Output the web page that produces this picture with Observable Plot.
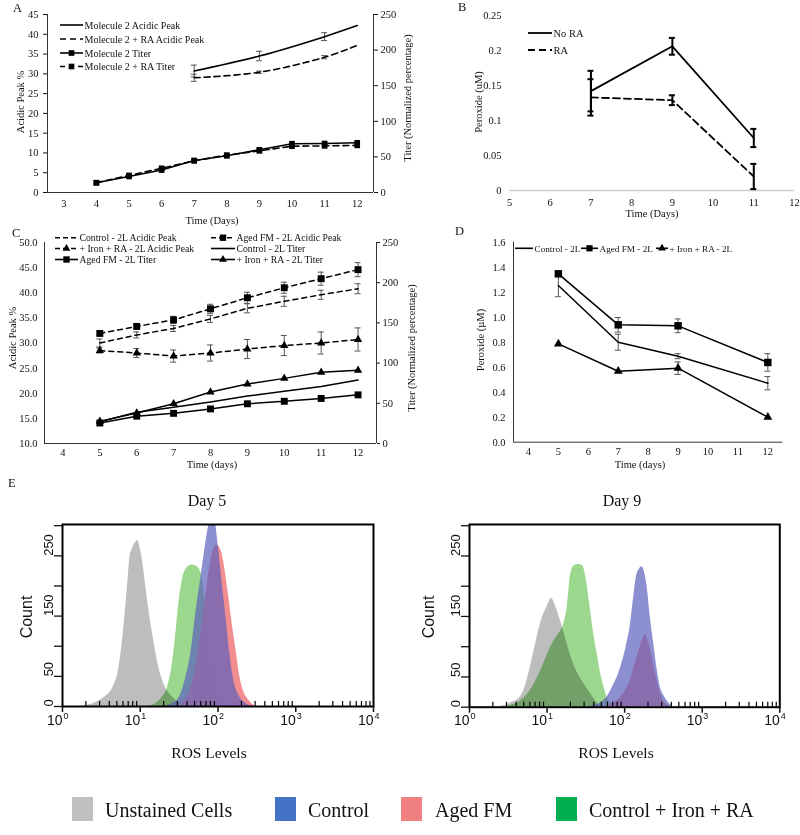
<!DOCTYPE html>
<html><head><meta charset="utf-8">
<script src="https://cdn.jsdelivr.net/npm/d3@7"></script>
<script src="https://cdn.jsdelivr.net/npm/@observablehq/plot@0.6"></script>
<style>
body{margin:0;background:#fff;}
#root{position:relative;width:800px;height:835px;overflow:hidden;background:#fff;}
</style></head>
<body><div id="root"></div>
<script>
// ================= DATA =================
// Panel A
const daysA = [4,5,6,7,8,9,10,11,12];
const titerA = [13.6,22.5,31.5,45,51.5,60,68.5,68.8,69.8];
const titerRA_A = [13.8,24,34,44.5,52.5,58.5,65,65.5,66.2];
const acidDaysA = [7,9,11,12];
const acidA = [30.7,34.5,39.4,42.2];
const acidErrA = [1.5,1.2,1.0,0];
const acidRA_A = [29.0,30.4,34.2,37.2];
const acidRAErrA = [0.9,0.3,0.4,0];
const xTicksA = [3,4,5,6,7,8,9,10,11,12];
const yTicksA = [0,5,10,15,20,25,30,35,40,45];
const yTicksTiter = [0,50,100,150,200,250];
const legendA = ["Molecule 2 Acidic Peak","Molecule 2 + RA Acidic Peak","Molecule 2 Titer","Molecule 2 + RA Titer"];

// Panel B
const daysB = [7,9,11];
const noRA = [0.142,0.206,0.075];
const noRAErr = [0.029,0.012,0.013];
const withRA = [0.133,0.129,0.020];
const withRAErr = [0.026,0.007,0.018];
const xTicksB = [5,6,7,8,9,10,11,12];
const yTicksB = [0,0.05,0.1,0.15,0.2,0.25];
const legendB = ["No RA","RA"];

// Panel C
const daysC = [5,6,7,8,9,10,11,12];
const ctrlAcidC = [30.0,31.6,32.9,34.8,36.9,38.3,39.6,40.8];
const ctrlAcidErrC = [0.8,0.6,0.6,0.7,0.9,1.0,0.9,1.0];
const agedAcidC = [31.9,33.3,34.6,36.8,39.0,41.0,42.8,44.6];
const agedAcidErrC = [0.3,0.5,0.7,0.9,1.1,1.1,1.3,1.4];
const ironAcidC = [28.5,28.0,27.4,28.0,28.8,29.5,30.0,30.7];
const ironAcidErrC = [0.5,0.9,1.2,1.6,1.9,2.0,2.2,2.3];
const ctrlTiterC = [27,39,45,51.5,59,65,71,79];
const agedTiterC = [25.5,34,37.5,43,49.4,52.5,56,60.5];
const ironTiterC = [27.5,38,49.5,64,74,81,88.5,91];
const xTicksCD = [4,5,6,7,8,9,10,11,12];
const yTicksC = [10,15,20,25,30,35,40,45,50];
const legendC = ["Control - 2L Acidic Peak","Aged FM - 2L Acidic Peak","+ Iron + RA - 2L Acidic Peak","Control - 2L Titer","Aged FM - 2L Titer","+ Iron + RA - 2L Titer"];

// Panel D
const daysD = [5,7,9,12];
const ctrlD = [1.254,0.80,0.688,0.472];
const ctrlErrD = [0.09,0.064,0.02,0.053];
const agedD = [1.347,0.939,0.931,0.638];
const agedErrD = [0.02,0.058,0.055,0.07];
const ironD = [0.787,0.568,0.592,0.20];
const ironErrD = [0,0,0.05,0];
const yTicksD = [0,0.2,0.4,0.6,0.8,1.0,1.2,1.4,1.6];
const legendD = ["Control - 2L","Aged FM - 2L","+ Iron + RA - 2L"];

// Panel E: histograms, [log10(ROS), count]
const gray5 = [[0.25,0],[0.35,3],[0.45,8],[0.55,16],[0.65,32],[0.72,60],[0.78,120],[0.83,190],[0.87,250],[0.90,262],[0.94,272],[0.97,275],[1.00,262],[1.04,232],[1.08,190],[1.13,143],[1.18,105],[1.22,76],[1.27,50],[1.32,32],[1.40,18],[1.50,6],[1.58,0]];
const green5 = [[1.10,0],[1.20,5],[1.28,15],[1.35,32],[1.40,60],[1.45,110],[1.50,175],[1.55,215],[1.60,230],[1.66,235],[1.72,233],[1.78,222],[1.84,170],[1.90,100],[1.96,45],[2.02,15],[2.10,3],[2.18,0]];
const blue5 = [[1.30,0],[1.40,4],[1.50,15],[1.58,45],[1.65,88],[1.72,160],[1.78,214],[1.83,260],[1.88,300],[1.92,320],[1.96,310],[2.00,270],[2.05,210],[2.10,150],[2.15,90],[2.20,45],[2.27,18],[2.35,6],[2.45,0]];
const red5 = [[1.45,0],[1.55,8],[1.65,30],[1.72,70],[1.80,140],[1.87,210],[1.93,255],[1.98,268],[2.03,262],[2.08,235],[2.13,190],[2.18,140],[2.23,95],[2.28,50],[2.33,25],[2.40,10],[2.48,0]];
const gray9 = [[0.30,0],[0.45,3],[0.55,8],[0.65,16],[0.72,35],[0.80,75],[0.87,115],[0.93,145],[1.00,166],[1.06,180],[1.10,170],[1.17,144],[1.23,118],[1.28,95],[1.34,72],[1.40,55],[1.47,40],[1.53,28],[1.60,15],[1.68,3],[1.75,0]];
const green9 = [[0.45,0],[0.55,4],[0.65,10],[0.75,22],[0.85,42],[0.95,70],[1.03,95],[1.10,112],[1.17,125],[1.22,140],[1.26,166],[1.30,216],[1.35,234],[1.40,236],[1.46,234],[1.50,215],[1.55,170],[1.60,122],[1.65,85],[1.69,56],[1.74,30],[1.78,15],[1.84,4],[1.90,0]];
const blue9 = [[1.50,0],[1.60,3],[1.70,8],[1.78,18],[1.85,35],[1.92,55],[1.97,75],[2.02,100],[2.07,133],[2.11,175],[2.15,215],[2.19,228],[2.22,232],[2.25,226],[2.29,199],[2.33,150],[2.38,100],[2.42,62],[2.46,33],[2.51,18],[2.56,8],[2.63,0]];
const red9 = [[1.70,0],[1.78,3],[1.86,8],[1.94,15],[2.00,25],[2.07,44],[2.13,70],[2.20,100],[2.24,115],[2.27,120],[2.31,105],[2.35,85],[2.38,66],[2.43,38],[2.50,11],[2.56,3],[2.62,0]];
const decadesE = [1,10,100,1000,10000];
const yTicksE = [0,50,100,150,200,250,300];
const yLabelsE = [0,50,150,250];
const legendE = ["Unstained Cells","Control","Aged FM","Control + Iron + RA"];
// drawing order: gray, green, red, blue
const histFills = {gray: "#bdbdbd", green: "#9bd88e", red: "#f2888a", blue: "#5b5fbc"};
const legendColorsE = ["#c0c0c0","#4472c4","#f08080","#00b050"];

// ================= HELPERS =================
const root = document.getElementById("root");
function place(svg, left, top) {
  svg.style.position = "absolute";
  svg.style.left = left + "px";
  svg.style.top = top + "px";
  root.appendChild(svg);
  return svg;
}
const rows = (xs, vs, es) => xs.map((x, i) => ({x, v: vs[i], e: es ? es[i] : 0}));
function errorMarks(data, {stroke = "#555", strokeWidth = 1, cap = 3} = {}) {
  const d = data.filter(r => r.e > 0);
  return [
    Plot.ruleX(d, {x: "x", y1: r => r.v - r.e, y2: r => r.v + r.e, stroke, strokeWidth}),
    Plot.ruleY(d, {x1: "x", x2: "x", y: r => r.v + r.e, insetLeft: -cap, insetRight: -cap, stroke, strokeWidth}),
    Plot.ruleY(d, {x1: "x", x2: "x", y: r => r.v - r.e, insetLeft: -cap, insetRight: -cap, stroke, strokeWidth})
  ];
}
const serifStyle = {background: "none", fontFamily: "Liberation Serif, serif", fontSize: "10.5px", overflow: "visible", color: "#111"};
const plain = d => String(d);

// ================= PANEL A =================
const xDomA = [2.5, 12.5];
const dimsA = {width: 400, height: 230, marginLeft: 47, marginRight: 27, marginTop: 14, marginBottom: 38};
const acidRowsA = rows(acidDaysA, acidA, acidErrA);
const acidRARowsA = rows(acidDaysA, acidRA_A, acidRAErrA);
const titerRowsA = rows(daysA, titerA);
const titerRARowsA = rows(daysA, titerRA_A);
place(Plot.plot({
  ...dimsA, style: serifStyle,
  x: {domain: xDomA}, y: {domain: [0, 45]},
  marks: [
    Plot.ruleY([0], {stroke: "#333"}),
    Plot.ruleX(xDomA, {stroke: "#333"}),
    Plot.axisY({ticks: yTicksA, tickSize: 4, tickPadding: 5, tickFormat: plain, label: null}),
    Plot.axisX({ticks: xTicksA, tickSize: 0, tickPadding: 7, tickFormat: plain, label: null}),
    ...errorMarks(acidRowsA), ...errorMarks(acidRARowsA),
    Plot.line(acidRowsA, {x: "x", y: "v", stroke: "black", strokeWidth: 1.6, curve: "catmull-rom"}),
    Plot.line(acidRARowsA, {x: "x", y: "v", stroke: "black", strokeWidth: 1.6, strokeDasharray: "6,4", curve: "catmull-rom"})
  ]
}), 0, 0);
place(Plot.plot({
  ...dimsA, style: serifStyle,
  x: {domain: xDomA, axis: null}, y: {domain: [0, 250]},
  marks: [
    Plot.axisY({anchor: "right", ticks: yTicksTiter, tickSize: 4, tickPadding: 3, tickFormat: plain, label: null}),
    Plot.line(titerRowsA, {x: "x", y: "v", stroke: "black", strokeWidth: 1.6}),
    Plot.line(titerRARowsA, {x: "x", y: "v", stroke: "black", strokeWidth: 1.6, strokeDasharray: "6,4"}),
    Plot.dot(titerRowsA, {x: "x", y: "v", symbol: "square", r: 3.2, fill: "black"}),
    Plot.dot(titerRARowsA, {x: "x", y: "v", symbol: "square", r: 3.2, fill: "black"})
  ]
}), 0, 0);

// ================= PANEL B =================
const noRARows = rows(daysB, noRA, noRAErr);
const withRARows = rows(daysB, withRA, withRAErr);
place(Plot.plot({
  width: 400, height: 230, marginLeft: 109, marginRight: 6, marginTop: 15, marginBottom: 40,
  style: serifStyle,
  x: {domain: [5, 12]}, y: {domain: [0, 0.25]},
  marks: [
    Plot.ruleY([0], {stroke: "#cfcfcf", strokeWidth: 1.3}),
    Plot.axisY({ticks: yTicksB, tickSize: 0, tickPadding: 8, tickFormat: plain, label: null}),
    Plot.axisX({ticks: xTicksB, tickSize: 0, tickPadding: 8, tickFormat: plain, label: null}),
    Plot.line(noRARows, {x: "x", y: "v", stroke: "black", strokeWidth: 1.8}),
    Plot.line(withRARows, {x: "x", y: "v", stroke: "black", strokeWidth: 1.8, strokeDasharray: "7,4"}),
    ...errorMarks(noRARows, {stroke: "black", strokeWidth: 2, cap: 3}),
    ...errorMarks(withRARows, {stroke: "black", strokeWidth: 2, cap: 3})
  ]
}), 400, 0);

// ================= PANEL C =================
const xDomCD = [3.5, 12.5];
const dimsC = {width: 400, height: 250, marginLeft: 44, marginRight: 24, marginTop: 17, marginBottom: 32};
const ctrlAcidRows = rows(daysC, ctrlAcidC, ctrlAcidErrC);
const agedAcidRows = rows(daysC, agedAcidC, agedAcidErrC);
const ironAcidRows = rows(daysC, ironAcidC, ironAcidErrC);
place(Plot.plot({
  ...dimsC, style: serifStyle,
  x: {domain: xDomCD}, y: {domain: [10, 50]},
  marks: [
    Plot.ruleY([10], {stroke: "#333"}),
    Plot.ruleX(xDomCD, {stroke: "#333"}),
    Plot.axisY({ticks: yTicksC, tickSize: 0, tickPadding: 7, tickFormat: d3.format(".1f"), label: null}),
    Plot.axisX({ticks: xTicksCD, tickSize: 0, tickPadding: 5.5, tickFormat: plain, label: null}),
    ...errorMarks(ctrlAcidRows), ...errorMarks(agedAcidRows), ...errorMarks(ironAcidRows),
    Plot.line(ctrlAcidRows, {x: "x", y: "v", stroke: "black", strokeWidth: 1.5, strokeDasharray: "5,4"}),
    Plot.line(agedAcidRows, {x: "x", y: "v", stroke: "black", strokeWidth: 1.5, strokeDasharray: "5,4"}),
    Plot.line(ironAcidRows, {x: "x", y: "v", stroke: "black", strokeWidth: 1.5, strokeDasharray: "5,4"}),
    Plot.dot(agedAcidRows, {x: "x", y: "v", symbol: "square", r: 3.9, fill: "black"}),
    Plot.dot(ironAcidRows, {x: "x", y: "v", symbol: "triangle", r: 3.1, fill: "black"})
  ]
}), 0, 225);
const ctrlTiterRows = rows(daysC, ctrlTiterC);
const agedTiterRows = rows(daysC, agedTiterC);
const ironTiterRows = rows(daysC, ironTiterC);
place(Plot.plot({
  ...dimsC, style: serifStyle,
  x: {domain: xDomCD, axis: null}, y: {domain: [0, 250]},
  marks: [
    Plot.axisY({anchor: "right", ticks: yTicksTiter, tickSize: 3, tickPadding: 3, tickFormat: plain, label: null}),
    Plot.line(ctrlTiterRows, {x: "x", y: "v", stroke: "black", strokeWidth: 1.5}),
    Plot.line(agedTiterRows, {x: "x", y: "v", stroke: "black", strokeWidth: 1.5}),
    Plot.line(ironTiterRows, {x: "x", y: "v", stroke: "black", strokeWidth: 1.5}),
    Plot.dot(agedTiterRows, {x: "x", y: "v", symbol: "square", r: 3.9, fill: "black"}),
    Plot.dot(ironTiterRows, {x: "x", y: "v", symbol: "triangle", r: 3.1, fill: "black"})
  ]
}), 0, 225);

// ================= PANEL D =================
const ctrlDRows = rows(daysD, ctrlD, ctrlErrD);
const agedDRows = rows(daysD, agedD, agedErrD);
const ironDRows = rows(daysD, ironD, ironErrD);
place(Plot.plot({
  width: 400, height: 250, marginLeft: 113, marginRight: 17.7, marginTop: 16.7, marginBottom: 33.3,
  style: serifStyle,
  x: {domain: xDomCD}, y: {domain: [0, 1.6]},
  marks: [
    Plot.ruleY([0], {stroke: "#333"}),
    Plot.ruleX([xDomCD[0]], {stroke: "#333"}),
    Plot.axisY({ticks: yTicksD, tickSize: 0, tickPadding: 8, tickFormat: d3.format(".1f"), label: null}),
    Plot.axisX({ticks: xTicksCD, tickSize: 0, tickPadding: 5.5, tickFormat: plain, label: null}),
    ...errorMarks(ctrlDRows), ...errorMarks(agedDRows), ...errorMarks(ironDRows),
    Plot.line(ctrlDRows, {x: "x", y: "v", stroke: "black", strokeWidth: 1.5}),
    Plot.line(agedDRows, {x: "x", y: "v", stroke: "black", strokeWidth: 1.5}),
    Plot.line(ironDRows, {x: "x", y: "v", stroke: "black", strokeWidth: 1.5}),
    Plot.dot(agedDRows, {x: "x", y: "v", symbol: "square", r: 4.2, fill: "black"}),
    Plot.dot(ironDRows, {x: "x", y: "v", symbol: "triangle", r: 3.3, fill: "black"})
  ]
}), 400, 225);

// ================= PANEL E =================
const minorE = [];
for (const dec of [1, 10, 100, 1000]) for (let k = 2; k <= 9; k++) minorE.push(dec * k);
function histogram(s, dims) {
  const innerH = dims.height - dims.marginTop - dims.marginBottom;
  const area = (data, fill, fillOpacity = 1) =>
    Plot.areaY(data, {x: d => 10 ** d[0], y: d => d[1], fill, fillOpacity, curve: "monotone-x", clip: true});
  const svg = Plot.plot({
    ...dims,
    style: {background: "none", fontFamily: "Liberation Sans, Arial, sans-serif", fontSize: "13px", overflow: "visible", color: "#111"},
    x: {type: "log", domain: [1, 10000]}, y: {domain: [0, 302]},
    marks: [
      area(s.gray, histFills.gray),
      area(s.green, histFills.green),
      area(s.red, histFills.red, 0.95),
      area(s.blue, histFills.blue, 0.7),
      Plot.frame({stroke: "black", strokeWidth: 2}),
      Plot.axisX({ticks: decadesE, tickSize: 6, tickFormat: () => "", strokeWidth: 1.5, label: null}),
      Plot.ruleX(minorE, {insetTop: innerH - 5, stroke: "black", strokeWidth: 1.2}),
      Plot.text(decadesE, {x: d => d, text: () => "10", frameAnchor: "bottom", dy: 18, dx: 0, textAnchor: "end", fontSize: 14}),
      Plot.text(decadesE, {x: d => d, text: d => String(Math.round(Math.log10(d))), frameAnchor: "bottom", dy: 12, dx: 1, textAnchor: "start", fontSize: 9}),
      Plot.axisY({ticks: yTicksE, tickSize: 8, tickFormat: () => "", strokeWidth: 1.3, label: null}),
      Plot.text(yLabelsE, {y: d => d, text: d => String(d), frameAnchor: "left", dx: -14, rotate: -90, fontSize: 13})
    ]
  });
  // green blends (multiply) with the unstained gray underneath
  const areas = svg.querySelectorAll('g[aria-label="area"]');
  if (areas[1]) areas[1].style.mixBlendMode = "multiply";
  return svg;
}
place(histogram({gray: gray5, green: green5, red: red5, blue: blue5}, {width: 400, height: 280, marginLeft: 62, marginRight: 27, marginTop: 44, marginBottom: 54}), 0, 480);
place(histogram({gray: gray9, green: green9, red: red9, blue: blue9}, {width: 400, height: 280, marginLeft: 69, marginRight: 20.7, marginTop: 44, marginBottom: 53.3}), 400, 480);

// ================= ANNOTATIONS & LEGENDS =================
const ov = d3.select(root).append("svg")
  .attr("width", 800).attr("height", 835)
  .style("position", "absolute").style("left", "0px").style("top", "0px")
  .style("pointer-events", "none");
const SERIF = "Liberation Serif, serif", SANS = "Liberation Sans, Arial, sans-serif";
function txt(x, y, s, {size = 10.5, anchor = "start", rot = 0, family = SERIF, mid = false} = {}) {
  const t = ov.append("text").attr("font-family", family).attr("font-size", size)
    .attr("text-anchor", anchor).attr("fill", "#111").text(s);
  if (rot) t.attr("transform", `translate(${x},${y}) rotate(${rot})`).attr("dy", "0.35em");
  else { t.attr("x", x).attr("y", y); if (mid) t.attr("dy", "0.35em"); }
  return t;
}
function legendItem(x1, x2, y, label, {dash = null, symbol = null, r = 3.2, size = 10, width = 1.6, textX = null} = {}) {
  ov.append("line").attr("x1", x1).attr("x2", x2).attr("y1", y).attr("y2", y)
    .attr("stroke", "black").attr("stroke-width", width).attr("stroke-dasharray", dash);
  if (symbol) ov.append("path").attr("d", d3.symbol(symbol, r * r * Math.PI)())
    .attr("transform", `translate(${(x1 + x2) / 2},${y})`).attr("fill", "black");
  txt(textX ?? x2 + 1.5, y, label, {size, mid: true});
}

// panel letters
txt(13, 12, "A", {size: 12.5});
txt(458, 11, "B", {size: 12.5});
txt(12, 237, "C", {size: 12.5});
txt(455, 235, "D", {size: 12.5});
txt(8, 487, "E", {size: 12.5});

// A titles & legend
txt(20, 102, "Acidic Peak %", {rot: -90, anchor: "middle"});
txt(407, 98, "Titer (Normalized percentage)", {rot: -90, anchor: "middle"});
txt(212, 224, "Time (Days)", {anchor: "middle"});
legendItem(60, 83, 25, legendA[0], {size: 10});
legendItem(60, 83, 39, legendA[1], {size: 10, dash: "6,4"});
legendItem(60, 83, 53, legendA[2], {size: 10, symbol: d3.symbolSquare, r: 3.2});
legendItem(60, 83, 66.5, legendA[3], {size: 10, dash: "5,4", symbol: d3.symbolSquare, r: 3.2});

// B titles & legend
txt(478, 102, "Peroxide  (uM)", {rot: -90, anchor: "middle"});
txt(652, 217, "Time (Days)", {anchor: "middle"});
legendItem(528, 552, 33, legendB[0], {size: 10.5, width: 1.8});
legendItem(528, 552, 50, legendB[1], {size: 10.5, width: 1.8, dash: "7,4"});

// C titles & legend
txt(12, 338, "Acidic Peak %", {rot: -90, anchor: "middle"});
txt(411, 348, "Titer (Normalized percentage)", {rot: -90, anchor: "middle"});
txt(212, 468, "Time (days)", {anchor: "middle"});
legendItem(55, 78, 237.7, legendC[0], {size: 9.7, dash: "5,3"});
legendItem(211, 235, 237.7, legendC[1], {size: 9.7, dash: "5,3", symbol: d3.symbolSquare, r: 3.6});
legendItem(55, 78, 248.5, legendC[2], {size: 9.7, dash: "5,3", symbol: d3.symbolTriangle, r: 2.9});
legendItem(211, 235, 248.5, legendC[3], {size: 9.7});
legendItem(55, 78, 259.5, legendC[4], {size: 9.7, symbol: d3.symbolSquare, r: 3.6});
legendItem(211, 235, 259.5, legendC[5], {size: 9.7, symbol: d3.symbolTriangle, r: 2.9});

// D titles & legend
txt(480, 340, "Peroxide (µM)", {rot: -90, anchor: "middle"});
txt(640, 468, "Time (days)", {anchor: "middle"});
legendItem(515, 533, 248.3, legendD[0], {size: 9.2});
legendItem(581, 598, 248.3, legendD[1], {size: 9.2, symbol: d3.symbolSquare, r: 3.5});
legendItem(656, 668, 248.3, legendD[2], {size: 9.2, symbol: d3.symbolTriangle, r: 2.9});

// E titles
txt(207, 506, "Day 5", {size: 16, anchor: "middle"});
txt(622, 506, "Day 9", {size: 16, anchor: "middle"});
txt(26, 617, "Count", {size: 16, anchor: "middle", rot: -90, family: SANS});
txt(428, 617, "Count", {size: 16, anchor: "middle", rot: -90, family: SANS});
txt(209, 758, "ROS Levels", {size: 15.5, anchor: "middle"});
txt(616, 758, "ROS Levels", {size: 15.5, anchor: "middle"});

// E legend
const legXs = [72, 275, 401, 556];
const legTextXs = [105, 308, 435, 589];
legendE.forEach((lab, i) => {
  ov.append("rect").attr("x", legXs[i]).attr("y", 797).attr("width", 21).attr("height", 24).attr("fill", legendColorsE[i]);
  txt(legTextXs[i], 817, lab, {size: 20});
});
</script>
</body></html>
